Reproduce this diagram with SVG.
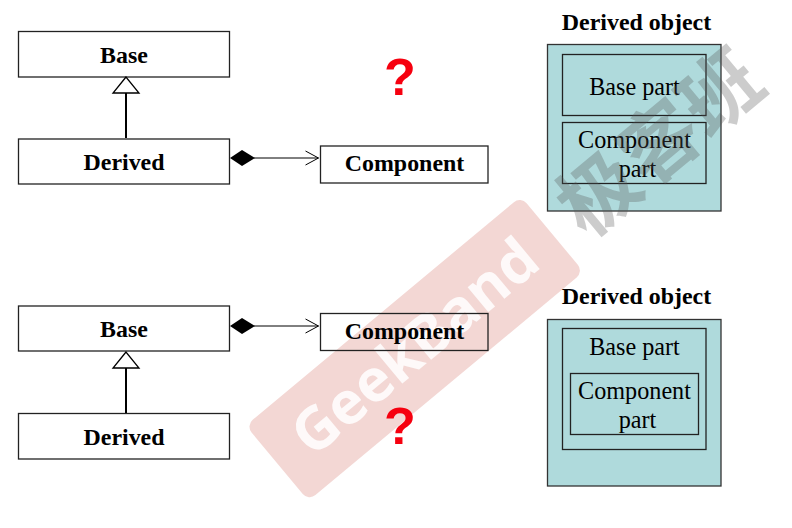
<svg xmlns="http://www.w3.org/2000/svg" width="792" height="528" viewBox="0 0 792 528">
<style>
.box{fill:#fff;stroke:#222;stroke-width:1.3}
.clear{fill:none;stroke:#222;stroke-width:1.3}
.teal{fill:#afdadc;stroke:#333;stroke-width:1.3}
.inner{fill:none;stroke:#222;stroke-width:1.3}
.b{font-family:"Liberation Serif",serif;font-weight:700;font-size:23.9px;text-anchor:middle;fill:#000}
.r{font-family:"Liberation Serif",serif;font-size:24.2px;text-anchor:middle;fill:#000}
.q{font-family:"Liberation Sans",sans-serif;font-weight:700;font-size:52px;text-anchor:middle;fill:#f6000f}
.line{stroke:#000;fill:none}
</style>
<defs>
<marker id="open" markerUnits="userSpaceOnUse" markerWidth="16" markerHeight="16" refX="14" refY="8" orient="auto"><path d="M1 1 L14 8 L1 15" fill="none" stroke="#000" stroke-width="1"/></marker>
</defs>
<rect width="792" height="528" fill="#fff"/>
<g id="watermark-band">
<rect x="236" y="299.500" width="358" height="98" rx="9" fill="#c8483c" fill-opacity=".22" transform="rotate(-39.8 415 349)"/>
<text x="415" y="367" transform="rotate(-39.8 415 347)" font-family="'Open Sans','Liberation Sans',sans-serif" font-weight="700" font-size="59" text-anchor="middle" fill="#fff" fill-opacity=".85">GeekBand</text>
</g>
<g id="object-1">
<rect class="teal" x="547.500" y="44.500" width="173.500" height="166.500"/>
<rect class="inner" x="562.500" y="54.500" width="143.500" height="61"/>
<rect class="inner" x="562.500" y="122.500" width="143.500" height="61"/>
<text class="b" x="636.500" y="30">Derived object</text>
<text class="r" x="634.500" y="95">Base part</text>
<text class="r" x="634.500" y="147.500">Component</text>
<text class="r" x="637.500" y="176.500">part</text>
</g>
<g id="object-2">
<rect class="teal" x="547.500" y="319.500" width="173.500" height="166.500"/>
<rect class="inner" x="562.500" y="328.500" width="143.500" height="121"/>
<rect class="inner" x="570.500" y="373.500" width="128" height="61"/>
<text class="b" x="636.500" y="304">Derived object</text>
<text class="r" x="634.500" y="355">Base part</text>
<text class="r" x="634.500" y="398.500">Component</text>
<text class="r" x="637.500" y="427.500">part</text>
</g>
<g id="base-1"><rect class="box" x="18.500" y="31.500" width="211" height="45.500"/><text class="b" x="124" y="62.500">Base</text></g>
<g id="derived-1"><rect class="box" x="18.500" y="139" width="211" height="45"/><text class="b" x="124" y="170">Derived</text></g>
<g id="component-1"><rect class="box" x="320.500" y="146" width="167.500" height="37"/><text class="b" x="404.500" y="171">Component</text></g>
<g id="base-2"><rect class="box" x="18.500" y="306" width="211" height="45"/><text class="b" x="124" y="337">Base</text></g>
<g id="derived-2"><rect class="box" x="18.500" y="413.500" width="211" height="45.500"/><text class="b" x="124" y="445">Derived</text></g>
<g id="component-2"><rect class="clear" x="320.500" y="313.500" width="167.500" height="37"/><text class="b" x="404.500" y="339">Component</text></g>
<g id="connectors">
<path class="line" stroke-width="2" d="M126 138V93"/>
<path fill="#fff" stroke="#000" stroke-width="1.300" d="M126 77 L113 93 H139 Z"/>
<path class="line" stroke-width="1" marker-end="url(#open)" d="M254 158H318.500"/>
<path fill="#000" d="M230 158 L242 150 L255 158 L242 166 Z"/>
<path class="line" stroke-width="2" d="M126 413V368"/>
<path fill="#fff" stroke="#000" stroke-width="1.300" d="M126 352 L113 368 H139 Z"/>
<path class="line" stroke-width="1" marker-end="url(#open)" d="M254 326H318.500"/>
<path fill="#000" d="M230 326 L242 318 L255 326 L242 334 Z"/>
</g>
<text class="q" x="400" y="95">?</text>
<text class="q" x="400" y="444">?</text>
<g id="watermark-mark">
<text x="660" y="171" transform="rotate(-39.8 660 143)" font-family="'Noto Sans CJK SC',sans-serif" font-weight="700" font-size="79" text-anchor="middle" fill="#555" fill-opacity=".3">极客班</text>
</g>
</svg>
